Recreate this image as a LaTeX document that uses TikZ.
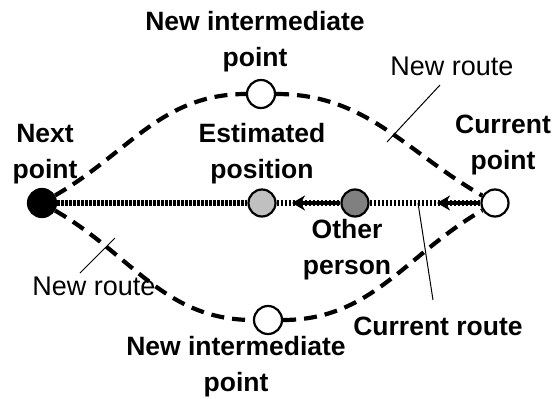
\documentclass[tikz,border=0pt]{standalone}
\usepackage{fontspec}
\setmainfont{Liberation Sans}
\usetikzlibrary{arrows.meta}
\begin{document}
\begin{tikzpicture}[x=1pt,y=-1pt,
 pt/.style={circle,draw,line width=2.2pt,minimum size=27pt,inner sep=0pt},
 route/.style={line width=4.2pt,dash pattern=on 13pt off 8pt},
 curroute/.style={line width=5.5pt,dash pattern=on 2.5pt off 1.5pt},
 mv/.style={line width=4pt,-{Stealth[length=13pt,width=15pt]}},
 lbl/.style={font=\fontsize{26.5}{36}\selectfont\bfseries,align=center,inner sep=0pt},
 lblr/.style={font=\fontsize{27}{36}\selectfont,inner sep=0pt},
 lead/.style={line width=1pt}]
\useasboundingbox (0,0) rectangle (558,399);
\definecolor{estgray}{RGB}{192,192,192}
\definecolor{othgray}{RGB}{128,128,128}
% points
\node[pt,fill=black,minimum size=28pt] (next) at (42,203) {};
\node[pt,fill=estgray] (est) at (262,203) {};
\node[pt,fill=othgray] (oth) at (355,203) {};
\node[pt,fill=white] (cur) at (495,203) {};
\node[pt,fill=white,minimum size=28pt] (top) at (261,94) {};
\node[pt,fill=white,minimum size=28pt] (bot) at (268,320) {};
% routes
\draw[route] (next) to[out=30,in=180] (top);
\draw[route] (top) to[out=0,in=150] (cur);
\draw[route] (next) to[out=-30,in=180] (bot);
\draw[route] (bot) to[out=0,in=-150] (cur);
\draw[curroute] (next) -- (est);
\draw[curroute] (est) -- (oth);
\draw[curroute] (oth) -- (cur);
\coordinate (a1) at (437,203);
\coordinate (a2) at (292,203);
\draw[mv] (cur.west) -- (a1);
\draw[mv] (oth.west) -- (a2);
% labels
\node[lbl] (ltop) at (255,42) {New intermediate\\point};
\node[lbl] (lnext) at (45,154) {Next\\point};
\node[lbl] (lest) at (262,154) {Estimated\\position};
\node[lbl] (lcur) at (503,145) {Current\\point};
\node[lbl] (loth) at (347,250) {Other\\person};
\node[lbl] (lbot) at (236,367) {New intermediate\\point};
\node[lblr] (nr1) at (452,66) {New route};
\node[lblr] (nr2) at (94,286) {New route};
\node[lbl] (cr) at (438,326) {Current route};
% leaders
\coordinate (p1a) at (440,85);
\coordinate (p1b) at (387,142);
\coordinate (p2a) at (80,273);
\coordinate (p2b) at (115,238);
\coordinate (p3a) at (418,203);
\coordinate (p3b) at (433,300);
\draw[lead] (p1a) -- (p1b);
\draw[lead] (p2a) -- (p2b);
\draw[lead] (p3a) -- (p3b);
\end{tikzpicture}
\end{document}
